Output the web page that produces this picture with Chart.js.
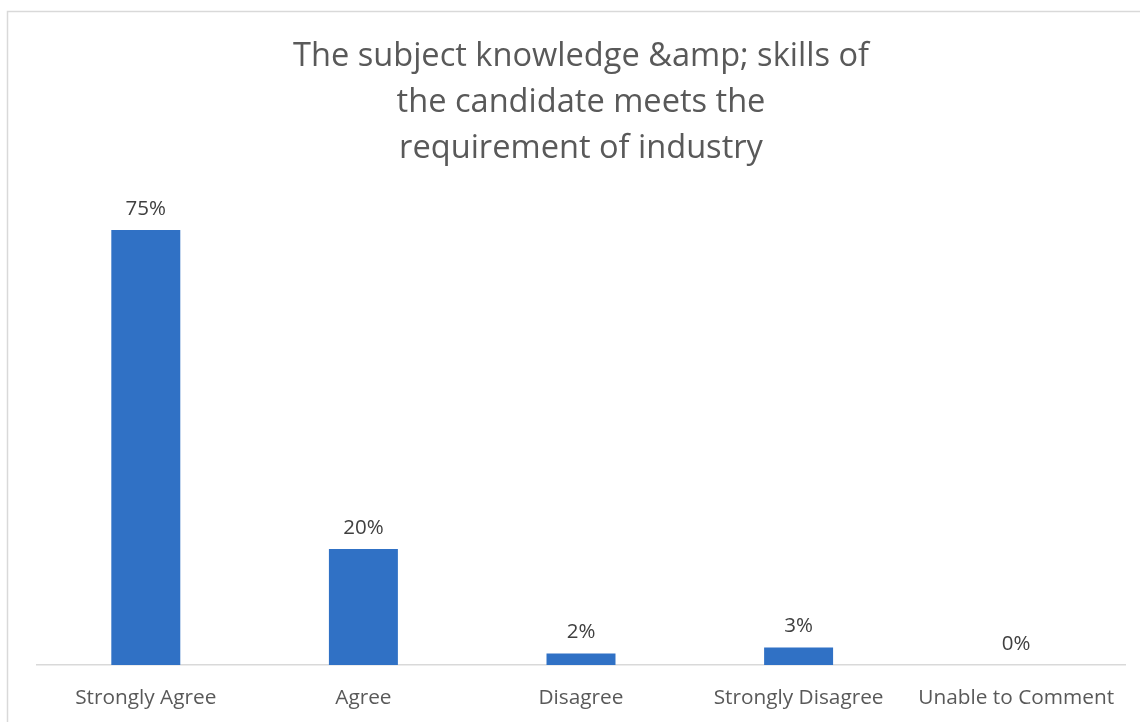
<!DOCTYPE html>
<html lang="en">
<head>
  <meta charset="UTF-8">
  <title>Subject knowledge survey</title>
  <script src="https://cdn.jsdelivr.net/npm/chart.js"></script>
  <style>
    html, body { margin: 0; padding: 0; background: #fff; }
    canvas { display: block; }
  </style>
</head>
<body>
  <canvas id="chart" width="1140" height="722"></canvas>

  <script>
    // Data
    const categories = ["Strongly Agree", "Agree", "Disagree", "Strongly Disagree", "Unable to Comment"];
    const percentValues = [75, 20, 2, 3, 0];
    const titleLines = ["The subject knowledge &amp; skills of", "the candidate meets the", "requirement of industry"];

    const FONT = "'Open Sans', 'Liberation Sans', sans-serif";

    // light grey frame round the chart, like the office export
    const framePlugin = {
      id: "frame",
      beforeDraw(chart) {
        const ctx = chart.ctx;
        ctx.save();
        ctx.strokeStyle = "#d9d9d9";
        ctx.lineWidth = 1.5;
        ctx.strokeRect(7.5, 11.5, chart.width + 20, chart.height + 20);
        ctx.restore();
      }
    };

    // value labels above each bar
    const valueLabels = {
      id: "valueLabels",
      afterDatasetsDraw(chart) {
        const ctx = chart.ctx;
        const meta = chart.getDatasetMeta(0);
        ctx.save();
        ctx.font = "20.5px " + FONT;
        ctx.fillStyle = "#404040";
        ctx.textAlign = "center";
        ctx.textBaseline = "middle";
        meta.data.forEach((bar, i) => {
          ctx.fillText(percentValues[i] + "%", bar.x, bar.y - 21);
        });
        ctx.restore();
      }
    };

    new Chart(document.getElementById("chart"), {
      type: "bar",
      data: {
        labels: categories,
        datasets: [{
          data: percentValues,
          backgroundColor: "#3071c5",
          borderWidth: 0,
          barPercentage: 0.317,
          categoryPercentage: 1.0
        }]
      },
      options: {
        responsive: false,
        animation: false,
        devicePixelRatio: 1,
        layout: { padding: { left: 37, right: 15, top: 0, bottom: 0 } },
        plugins: {
          legend: { display: false },
          tooltip: { enabled: false },
          title: {
            display: true,
            text: titleLines,
            color: "#595959",
            font: { family: FONT, size: 32.6, weight: "normal", lineHeight: 1.41 },
            padding: { top: 34, bottom: 29 }
          }
        },
        scales: {
          x: {
            grid: { display: false, drawTicks: false },
            border: { display: true, color: "#d9d9d9", width: 1.5 },
            ticks: {
              color: "#595959",
              font: { family: FONT, size: 20.8 },
              padding: 21,
              maxRotation: 0
            },
            afterFit(scale) { scale.height = 57; }
          },
          y: {
            display: false,
            min: 0,
            max: 80
          }
        }
      },
      plugins: [framePlugin, valueLabels]
    });
  </script>
</body>
</html>
